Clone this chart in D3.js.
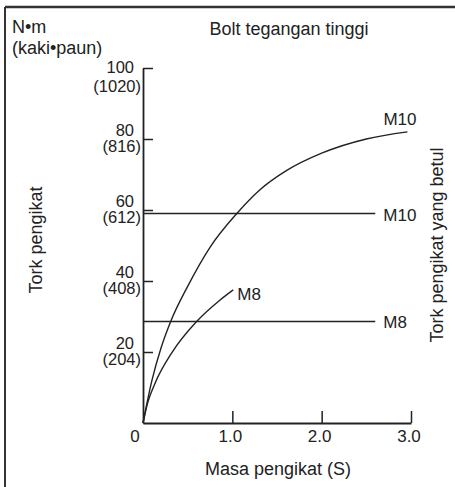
<!DOCTYPE html>
<html>
<head>
<meta charset="utf-8">
<script src="https://cdn.jsdelivr.net/npm/d3@7"></script>
<style>
  html, body { margin: 0; padding: 0; background: #fff; }
  svg { display: block; }
  .reg { font-family: "Liberation Sans", Arial, Helvetica, sans-serif; fill: #222; }
  .nar { font-family: "Liberation Sans Narrow", "Arial Narrow", "Liberation Sans", Arial, sans-serif; fill: #222; }
</style>
</head>
<body>
<script>
// ---- data ----
const xTicks = [0, 1, 2, 3];
const xTickLabels = ["0", "1.0", "2.0", "3.0"];
const yTicks = [20, 40, 60, 80, 100];
const yTickLabelsNm = ["20", "40", "60", "80", "100"];
const yTickLabelsFtlb = ["(204)", "(408)", "(612)", "(816)", "(1020)"];

// tightening torque curves (mass S, torque N·m)
const m10Curve = [[0,0],[0.1,12],[0.2,21],[0.31,28.6],[0.5,38.5],[0.75,49.5],[1.05,59],[1.3,65.5],[1.6,71],[2.0,76],[2.5,80],[2.96,82]];
const m8Curve = [[0,0],[0.05,5.5],[0.135,11.2],[0.32,19.7],[0.6,28.6],[0.86,34.6],[1.01,37.5]];

// correct tightening torque (horizontal lines)
const specNames = ["M10", "M8"];
const specValues = [59, 28.6];
const specEndX = 2.6;

const title = "Bolt tegangan tinggi";
const xTitle = "Masa pengikat (S)";
const yTitle = "Tork pengikat";
const yTitleRight = "Tork pengikat yang betul";
const unit1 = "N•m";
const unit2 = "(kaki•paun)";

// ---- drawing ----
const W = 455, H = 487;
const svg = d3.select("body").append("svg").attr("width", W).attr("height", H);
const ink = "#222";

const x = d3.scaleLinear().domain([0, 3]).range([143, 411]);
const y = d3.scaleLinear().domain([0, 100]).range([423, 68]);

// frame
svg.append("line").attr("x1", 5).attr("x2", W).attr("y1", 7).attr("y2", 7)
  .attr("stroke", "#333").attr("stroke-width", 2.5);
svg.append("line").attr("x1", 5).attr("x2", 5).attr("y1", 7).attr("y2", H)
  .attr("stroke", "#333").attr("stroke-width", 2);

// x axis
const xAxis = d3.axisTop(x).tickValues(xTicks.slice(1)).tickSize(12).tickFormat("").tickSizeOuter(0);
const gx = svg.append("g").attr("transform", `translate(0,${y(0)})`).call(xAxis);
gx.select(".domain").attr("stroke", ink).attr("stroke-width", 1.8);
gx.selectAll(".tick line").attr("stroke", ink).attr("stroke-width", 1.5);

// y axis
const yAxis = d3.axisRight(y).tickValues(yTicks).tickSize(10).tickFormat("").tickSizeOuter(0);
const gy = svg.append("g").attr("transform", `translate(${x(0)},0)`).call(yAxis);
gy.select(".domain").attr("stroke", ink).attr("stroke-width", 1.8);
gy.selectAll(".tick line").attr("stroke", ink).attr("stroke-width", 1.5);

// x tick labels
svg.selectAll("text.xt").data(xTicks).enter().append("text")
  .attr("class", "nar")
  .attr("x", (d) => x(d) + (d === 0 ? -8 : -2))
  .attr("y", y(0) + 19)
  .attr("text-anchor", "middle")
  .attr("font-size", 17)
  .text((d, i) => xTickLabels[i]);

// y tick labels
yTicks.forEach((v, i) => {
  const top = v === d3.max(yTicks);
  svg.append("text").attr("class", "nar")
    .attr("x", 134).attr("y", y(v) + (top ? 5 : -3))
    .attr("text-anchor", "end").attr("font-size", 16.5)
    .text(yTickLabelsNm[i]);
  svg.append("text").attr("class", "nar")
    .attr("x", 141).attr("y", y(v) + (top ? 24 : 13))
    .attr("text-anchor", "end").attr("font-size", 16.5)
    .text(yTickLabelsFtlb[i]);
});

// horizontal spec lines
specValues.forEach((v, i) => {
  svg.append("line")
    .attr("x1", x(0)).attr("x2", x(specEndX))
    .attr("y1", y(v)).attr("y2", y(v))
    .attr("stroke", ink).attr("stroke-width", 1.4);
  svg.append("text").attr("class", "nar")
    .attr("x", x(specEndX) + 8).attr("y", y(v) + 7)
    .attr("font-size", 17)
    .text(specNames[i]);
});

// curves
const line = d3.line().x(d => x(d[0])).y(d => y(d[1])).curve(d3.curveMonotoneX);
[m10Curve, m8Curve].forEach(c => {
  svg.append("path").attr("d", line(c))
    .attr("fill", "none").attr("stroke", ink).attr("stroke-width", 1.4);
});
const m10End = m10Curve[m10Curve.length - 1];
const m8End = m8Curve[m8Curve.length - 1];
svg.append("text").attr("class", "nar")
  .attr("x", x(m10End[0]) - 24).attr("y", y(m10End[1]) - 7)
  .attr("font-size", 17).text(specNames[0]);
svg.append("text").attr("class", "nar")
  .attr("x", x(m8End[0]) + 4).attr("y", y(m8End[1]) + 10)
  .attr("font-size", 17).text(specNames[1]);

// titles
svg.append("text").attr("class", "reg")
  .attr("x", 289).attr("y", 35).attr("text-anchor", "middle")
  .attr("font-size", 18).text(title);
svg.append("text").attr("class", "reg")
  .attr("x", 278).attr("y", 475).attr("text-anchor", "middle")
  .attr("font-size", 18).text(xTitle);
svg.append("text").attr("class", "reg")
  .attr("transform", "translate(42,240) rotate(-90)")
  .attr("text-anchor", "middle").attr("font-size", 18).text(yTitle);
svg.append("text").attr("class", "reg")
  .attr("transform", "translate(443,245) rotate(-90)")
  .attr("text-anchor", "middle").attr("font-size", 18).text(yTitleRight);
svg.append("text").attr("class", "reg")
  .attr("x", 12).attr("y", 33).attr("font-size", 18).text(unit1);
svg.append("text").attr("class", "reg")
  .attr("x", 12).attr("y", 54).attr("font-size", 18).text(unit2);
</script>
</body>
</html>
